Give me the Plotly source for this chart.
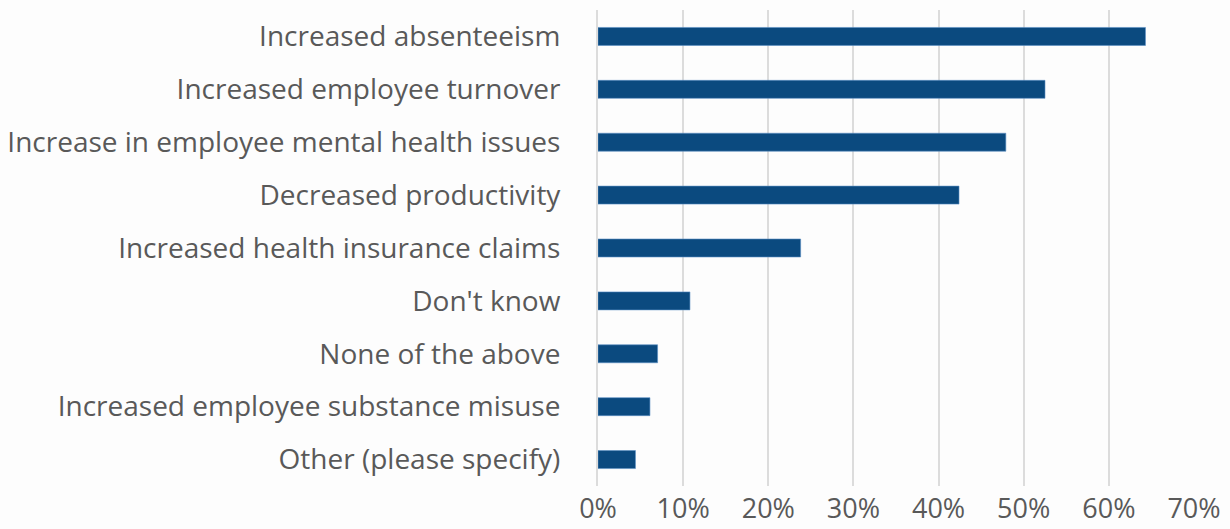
import plotly.graph_objects as go

categories = [
    "Increased absenteeism",
    "Increased employee turnover",
    "Increase in employee mental health issues",
    "Decreased productivity",
    "Increased health insurance claims",
    "Don't know",
    "None of the above",
    "Increased employee substance misuse",
    "Other (please specify)",
]
shares = [0.643, 0.525, 0.479, 0.424, 0.238, 0.108, 0.070, 0.061, 0.044]
tick_values = [0, 0.1, 0.2, 0.3, 0.4, 0.5, 0.6, 0.7]
tick_labels = ["0%", "10%", "20%", "30%", "40%", "50%", "60%", "70%"]

text_color = "#595959"
bar_color = "#0b4a7f"

fig = go.Figure(
    go.Bar(
        x=shares,
        y=categories,
        orientation="h",
        width=0.34,
        marker=dict(color=bar_color, line=dict(color="#5b8fc4", width=0.6)),
    )
)

fig.update_layout(
    width=1230,
    height=529,
    margin=dict(l=598, r=36, t=10, b=43),
    paper_bgcolor="#fdfdfd",
    plot_bgcolor="#fdfdfd",
    showlegend=False,
    font=dict(family="Open Sans", color=text_color, size=27),
)

fig.update_xaxes(
    range=[0, 0.7],
    tickvals=tick_values,
    ticktext=tick_labels,
    showgrid=True,
    gridcolor="#dcdcdc",
    gridwidth=2,
    zeroline=False,
    showline=False,
    automargin=False,
    tickfont=dict(size=27, color=text_color),
    ticklabelstandoff=4,
)

fig.update_yaxes(
    categoryorder="array",
    categoryarray=categories[::-1],
    showgrid=False,
    showline=True,
    linecolor="#dcdcdc",
    linewidth=2,
    automargin=False,
    tickfont=dict(size=28, color=text_color),
    ticklabelstandoff=30,
)

fig.write_html("out.html")
